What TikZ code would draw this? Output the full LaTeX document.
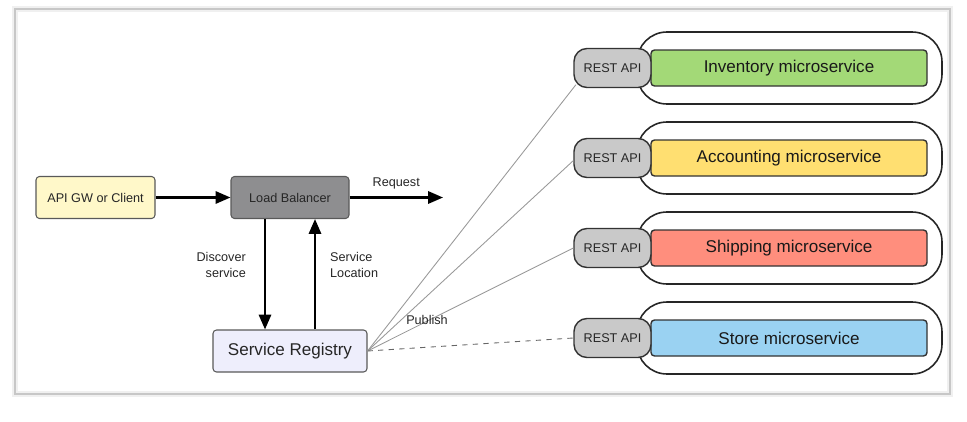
\documentclass[tikz,border=0pt]{standalone}
\usepackage{fontspec}
\setmainfont{Liberation Sans}
\usetikzlibrary{arrows.meta}

\definecolor{clientyellow}{HTML}{FFF8C9}
\definecolor{balancergray}{HTML}{8E8E90}
\definecolor{registrylilac}{HTML}{EEEEFC}
\definecolor{apigray}{HTML}{C9C9C9}
\definecolor{invgreen}{HTML}{A3D977}
\definecolor{accyellow}{HTML}{FFDF71}
\definecolor{shipred}{HTML}{FF8E7D}
\definecolor{storeblue}{HTML}{9AD2F2}

\begin{document}
\begin{tikzpicture}[>={Triangle[length=8.5pt,width=7pt]},
    every node/.style={font=\fontsize{7.2}{8.6}\selectfont, text=black!85},
    box/.style={draw=black!65, line width=0.6pt, rounded corners=2pt, minimum height=0.84cm, inner sep=0pt},
    flow/.style={line width=1.3pt, ->},
    restapi/.style={draw=black!80, line width=0.8pt, fill=apigray, rounded corners=0.26cm,
        minimum width=1.54cm, minimum height=0.78cm, inner sep=0pt},
    service/.style={draw=black!80, line width=0.8pt, rounded corners=2pt, minimum width=5.52cm,
        minimum height=0.72cm, inner sep=0pt, text=black!90, font=\fontsize{9.7}{11}\selectfont},
    wrapper/.style={draw=black!85, line width=0.9pt, fill=white, rounded corners=0.6cm,
        minimum width=6.1cm, minimum height=1.44cm},
    publish/.style={draw=black!40, line width=0.5pt}]

    % Marco de la figura
    \useasboundingbox (0,0) rectangle (19.34,8.42);
    \draw[black!6, line width=3pt] (0.30,0.54) rectangle (19.00,8.24);
    \draw[black!22, line width=0.8pt] (0.30,0.54) rectangle (19.00,8.24);

    % Cliente, balanceador y registro
    \node[box, fill=clientyellow, minimum width=2.38cm] (client) at (1.91,4.47) {API GW or Client};
    \node[box, fill=balancergray, minimum width=2.36cm] (balancer) at (5.80,4.47) {Load Balancer};
    \node[box, fill=registrylilac, minimum width=3.08cm, font=\fontsize{9.7}{11}\selectfont] (registry) at (5.80,1.40) {Service Registry};

    % Flechas de peticion
    \coordinate (reqend) at (8.86,4.47);
    \draw[flow] (client) -- (balancer);
    \draw[flow] (balancer) -- (reqend) node[midway, above=1pt] {Request};

    % Descubrimiento (ida y vuelta)
    \draw[flow] ([xshift=-0.5cm]balancer.south) -- ([xshift=-0.5cm]registry.north);
    \draw[flow] ([xshift=0.5cm]registry.north) -- ([xshift=0.5cm]balancer.south);
    \node[anchor=east, align=right] (discover) at (5.04,3.12) {Discover\\service};
    \node[anchor=west, align=left] (location) at (6.48,3.12) {Service\\Location};

    % Microservicios con su envoltorio
    \node[wrapper] (wrap1) at (15.79,7.06) {};
    \node[wrapper] (wrap2) at (15.79,5.26) {};
    \node[wrapper] (wrap3) at (15.79,3.46) {};
    \node[wrapper] (wrap4) at (15.79,1.66) {};

    \node[service, fill=invgreen] (inventory) at (15.78,7.06) {Inventory microservice};
    \node[service, fill=accyellow] (accounting) at (15.78,5.26) {Accounting microservice};
    \node[service, fill=shipred] (shipping) at (15.78,3.46) {Shipping microservice};
    \node[service, fill=storeblue] (store) at (15.78,1.66) {Store microservice};

    % Interfaces REST
    \node[restapi] (api1) at (12.25,7.06) {REST API};
    \node[restapi] (api2) at (12.25,5.26) {REST API};
    \node[restapi] (api3) at (12.25,3.46) {REST API};
    \node[restapi] (api4) at (12.25,1.66) {REST API};

    % Publicacion en el registro
    \draw[publish] (registry.east) -- ([xshift=1.5pt,yshift=2pt]api1.south west);
    \draw[publish] (registry.east) -- ([yshift=-1.5pt]api2.west);
    \draw[publish] (registry.east) -- (api3.west);
    \draw[publish, dashed, draw=black!60] (registry.east) -- (api4.west);
    \node (publishlbl) at (8.54,2.02) {Publish};
\end{tikzpicture}
\end{document}
